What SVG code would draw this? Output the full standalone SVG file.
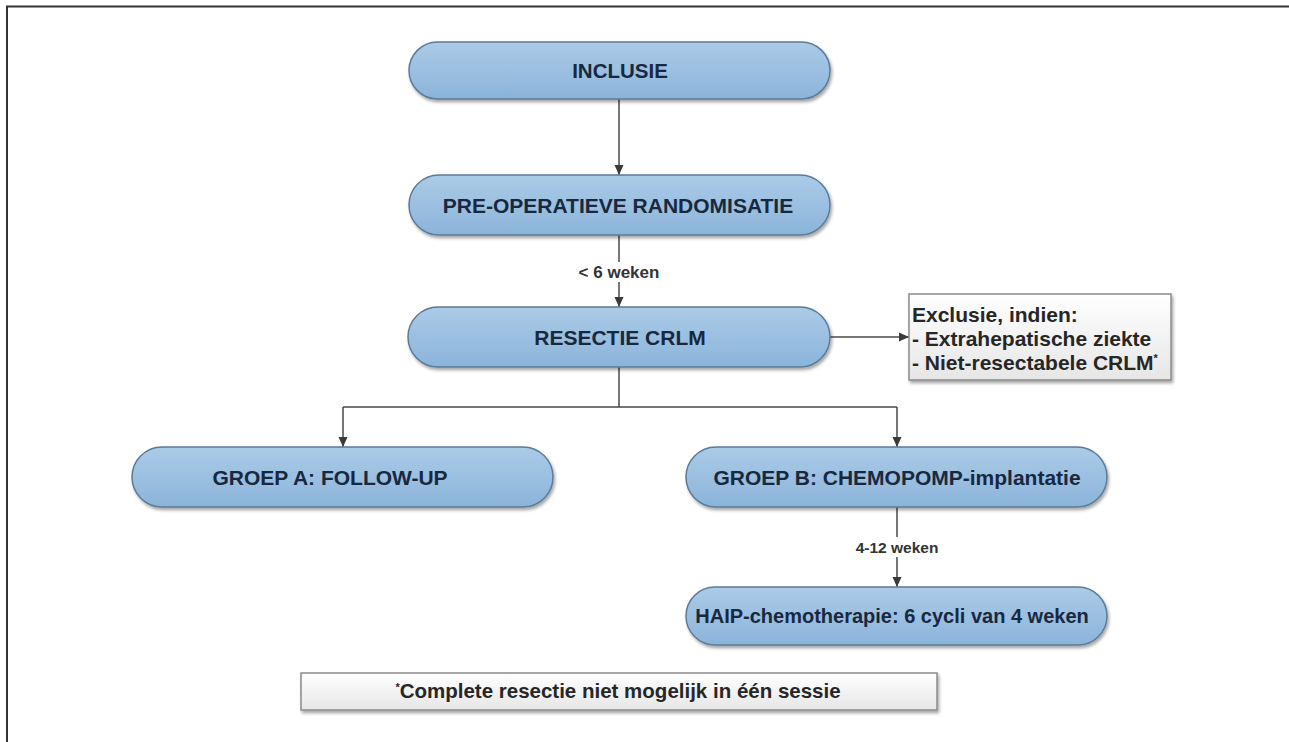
<svg xmlns="http://www.w3.org/2000/svg" width="1289" height="742" viewBox="0 0 1289 742">
  <defs>
    <linearGradient id="blue" x1="0" y1="0" x2="0" y2="1">
      <stop offset="0" stop-color="#abcbe7"/>
      <stop offset="1" stop-color="#8bb4da"/>
    </linearGradient>
    <linearGradient id="grey" x1="0" y1="0" x2="0" y2="1">
      <stop offset="0" stop-color="#ffffff"/>
      <stop offset="1" stop-color="#e6e6e6"/>
    </linearGradient>
    <filter id="sh" x="-5%" y="-20%" width="110%" height="150%">
      <feDropShadow dx="1.5" dy="2.5" stdDeviation="1.5" flood-color="#000" flood-opacity="0.35"/>
    </filter>
    <marker id="arr" markerWidth="12" markerHeight="12" refX="10" refY="5" orient="auto" markerUnits="userSpaceOnUse">
      <path d="M0,0.5 L10,5 L0,9.5 Z" fill="#3a3a3a"/>
    </marker>
    <style>
      .node { fill: url(#blue); stroke: #5b7b98; stroke-width: 1.5; filter: url(#sh); }
      .box { fill: url(#grey); stroke: #8a8a8a; stroke-width: 1.5; filter: url(#sh); }
      .nt { font-family: "Liberation Sans", Arial, sans-serif; font-weight: bold; font-size: 21px; fill: #18283e; text-anchor: middle; dominant-baseline: central; }
      .bt { font-family: "Liberation Sans", Arial, sans-serif; font-weight: bold; font-size: 21px; fill: #262626; }
      .lbl { font-family: "Liberation Sans", Arial, sans-serif; font-weight: bold; font-size: 15.5px; fill: #333; text-anchor: middle; dominant-baseline: central; }
      .ln { fill: none; stroke: #4a4a4a; stroke-width: 1.5; }
      .frame { fill: none; stroke: #333; stroke-width: 2; }
    </style>
  </defs>

  <rect x="0" y="0" width="1289" height="742" fill="#ffffff"/>
  <path class="frame" d="M7,742 V6.5 H1289"/>

  <g id="connectors">
    <line class="ln" x1="619" y1="99" x2="619" y2="175" marker-end="url(#arr)"/>
    <line class="ln" x1="619" y1="235" x2="619" y2="307" marker-end="url(#arr)"/>
    <line class="ln" x1="830" y1="337" x2="909" y2="337" marker-end="url(#arr)"/>
    <path class="ln" d="M619,367 V407 M343,407 H897"/>
    <line class="ln" x1="343" y1="407" x2="343" y2="447" marker-end="url(#arr)"/>
    <line class="ln" x1="897" y1="407" x2="897" y2="447" marker-end="url(#arr)"/>
    <line class="ln" x1="897" y1="507" x2="897" y2="587" marker-end="url(#arr)"/>
    <rect x="574" y="262" width="90" height="20" fill="#fff"/>
    <text class="lbl" x="619" y="272" style="font-size:17px">&lt; 6 weken</text>
    <rect x="853" y="537" width="88" height="20" fill="#fff"/>
    <text class="lbl" x="897" y="547">4-12 weken</text>
  </g>

  <g id="inclusie">
    <rect class="node" x="409" y="42" width="421" height="57" rx="28.5"/>
    <text class="nt" x="620" y="70.5" style="font-size:20.5px">INCLUSIE</text>
  </g>
  <g id="randomisatie">
    <rect class="node" x="409" y="175" width="421" height="60" rx="30"/>
    <text class="nt" x="618" y="205">PRE-OPERATIEVE RANDOMISATIE</text>
  </g>
  <g id="resectie">
    <rect class="node" x="408" y="307" width="422" height="60" rx="30"/>
    <text class="nt" x="620" y="337">RESECTIE CRLM</text>
  </g>
  <g id="exclusie">
    <rect class="box" x="909" y="294" width="262" height="86"/>
    <text class="bt" x="912" y="322">Exclusie, indien:</text>
    <text class="bt" x="912" y="346">- Extrahepatische ziekte</text>
    <text class="bt" x="912" y="370">- Niet-resectabele CRLM<tspan style="font-size:11px" dy="-8">*</tspan></text>
  </g>
  <g id="groepA">
    <rect class="node" x="132" y="447" width="421" height="60" rx="30"/>
    <text class="nt" x="330" y="477">GROEP A: FOLLOW-UP</text>
  </g>
  <g id="groepB">
    <rect class="node" x="686" y="447" width="421" height="60" rx="30"/>
    <text class="nt" x="897" y="477">GROEP B: CHEMOPOMP-implantatie</text>
  </g>
  <g id="haip">
    <rect class="node" x="686" y="587" width="421" height="58" rx="29"/>
    <text class="nt" x="892" y="616" style="font-size:20px">HAIP-chemotherapie: 6 cycli van 4 weken</text>
  </g>
  <g id="footnote">
    <rect class="box" x="301" y="673" width="636" height="37"/>
    <text class="bt" x="618" y="698" text-anchor="middle" style="font-size:20.5px"><tspan style="font-size:11px" dy="-7">*</tspan><tspan dy="7">Complete resectie niet mogelijk in één sessie</tspan></text>
  </g>
</svg>
